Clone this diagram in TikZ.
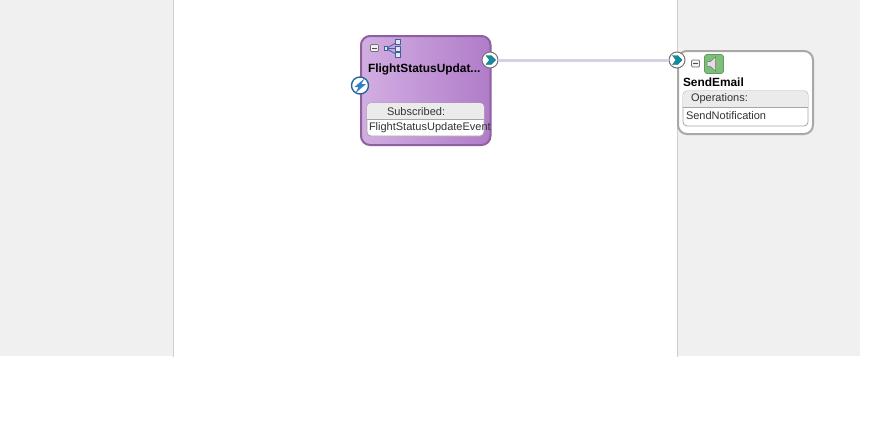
\documentclass[tikz,border=0pt]{standalone}
\usepackage{fontspec}
\setmainfont{Liberation Sans}
\definecolor{panel}{HTML}{F0F0F0}
\definecolor{panelline}{HTML}{CFCFCF}
\definecolor{purpleedge}{HTML}{8F5F9F}
\definecolor{purplelight}{HTML}{D2AEE2}
\definecolor{purpledark}{HTML}{B07CC9}
\definecolor{greyedge}{HTML}{A8A8A8}
\definecolor{headfill}{HTML}{EBEBEB}
\definecolor{wire}{HTML}{D5D1E8}
\definecolor{teal}{HTML}{0E8FA0}
\definecolor{tealdark}{HTML}{1F6F80}
\definecolor{bluebolt}{HTML}{2F7FC8}
\definecolor{iconblue}{HTML}{3F5F9F}
\definecolor{greenicon}{HTML}{7DBE78}
\definecolor{greenedge}{HTML}{5E9E5A}
\tikzset{
  x=1pt,y=-1pt,
  every node/.style={inner sep=0pt,outer sep=0pt,font=\fontsize{11}{13}\selectfont},
  card/.style={rounded corners=9pt,line width=2pt},
  inner/.style={rounded corners=4pt,draw=black!35,line width=0.8pt,fill=white},
  heading/.style={anchor=west,font=\fontsize{11.9}{14}\bfseries\selectfont},
  plain/.style={anchor=west,text=black!80,font=\fontsize{11}{13}\selectfont},
  port/.style={circle,minimum size=16pt,draw=black!55,line width=1pt,fill=white},
  minusbox/.style={draw=black!55,fill=black!6,rounded corners=1pt,line width=0.7pt,minimum width=8pt,minimum height=7pt},
  hub/.style={draw=iconblue,fill=iconblue!15,line width=0.8pt,minimum size=5pt}
}
\newcommand{\chev}[2]{\fill[teal,draw=tealdark,line width=0.4pt] (#1-4.5,#2-4.5) -- (#1+0.5,#2-4.5) -- (#1+5,#2) -- (#1+0.5,#2+4.5) -- (#1-4.5,#2+4.5) -- (#1-1,#2) -- cycle;}
\begin{document}
\begin{tikzpicture}
\useasboundingbox (0,0) rectangle (875,447);
\fill[white] (0,0) rectangle (875,447);
\fill[panel] (0,0) rectangle (173,356);
\fill[panel] (678,0) rectangle (860,356);
\draw[panelline,line width=0.8pt] (173.5,0) -- (173.5,357);
\draw[panelline,line width=0.8pt] (677.5,0) -- (677.5,357);

% FlightStatusUpdate card
\node[card,draw=purpleedge,left color=purplelight,right color=purpledark,minimum width=129.5pt,minimum height=109pt,anchor=north west] (fcard) at (361,36) {};
\node[minusbox] (fminus) at (374.5,48) {};
\draw[black!70,line width=0.8pt] (372,48) -- (377,48);
\node[hub] (h1) at (397.5,42) {};
\node[hub] (h2) at (397.5,48.5) {};
\node[hub] (h3) at (397.5,55) {};
\node[hub,minimum size=3.5pt] (h0) at (386,48.5) {};
\draw[iconblue,line width=0.8pt] (h0) -- (h1);
\draw[iconblue,line width=0.8pt] (h0) -- (h2);
\draw[iconblue,line width=0.8pt] (h0) -- (h3);
\node[heading] (ftitle) at (368,69) {FlightStatusUpdat...};
\node[inner,minimum width=117pt,minimum height=33pt,anchor=north west] (fbox) at (367,103) {};
\begin{scope}
\clip[rounded corners=4pt] (367,103) rectangle (484,136);
\fill[headfill] (367,103) rectangle (484,119);
\end{scope}
\draw[black!35,line width=0.8pt] (367,119) -- (484,119);
\node[plain] (fhead) at (387,111.5) {Subscribed:};
\node[plain] (fitem) at (369,127.5) {FlightStatusUpdateEvent};
\node[port] (fport) at (490,60) {};
\chev{490.5}{60}
\node[circle,minimum size=17pt,draw=bluebolt!80!black,line width=1.4pt,fill=white] (bolt) at (360,85.5) {};
\fill[bluebolt] (364.5,78.5) -- (354.5,87) -- (358.5,87) -- (355.5,93) -- (366,84) -- (361.5,84) -- cycle;

% SendEmail card
\node[card,draw=greyedge,fill=white,minimum width=135pt,minimum height=83pt,anchor=north west] (scard) at (678,51) {};
\node[minusbox] (sminus) at (695.5,63.5) {};
\draw[black!70,line width=0.8pt] (693,63.5) -- (698,63.5);
\node[draw=greenedge,fill=greenicon,rounded corners=2.5pt,line width=0.7pt,minimum width=19pt,minimum height=19pt] (speaker) at (714,64) {};
\fill[black!12,draw=black!55,line width=0.5pt] (707,61.5) -- (710.5,61.5) -- (715.5,57) -- (715.5,71) -- (710.5,66.5) -- (707,66.5) -- cycle;
\draw[black!30,line width=0.6pt] (717.5,60) .. controls (719,63) and (719,65) .. (717.5,68);
\node[heading] (stitle) at (683,82) {SendEmail};
\node[inner,minimum width=125pt,minimum height=35pt,anchor=north west] (sbox) at (683,91) {};
\begin{scope}
\clip[rounded corners=4pt] (683,91) rectangle (808,126);
\fill[headfill] (683,91) rectangle (808,107);
\end{scope}
\draw[black!35,line width=0.8pt] (683,107) -- (808,107);
\node[plain] (shead) at (691,98.5) {Operations:};
\node[plain] (sitem) at (686,115.5) {SendNotification};
\node[port] (sport) at (677,60) {};
\chev{677}{60}

\draw[wire,line width=3pt] (fport) -- (sport);
\end{tikzpicture}
\end{document}
